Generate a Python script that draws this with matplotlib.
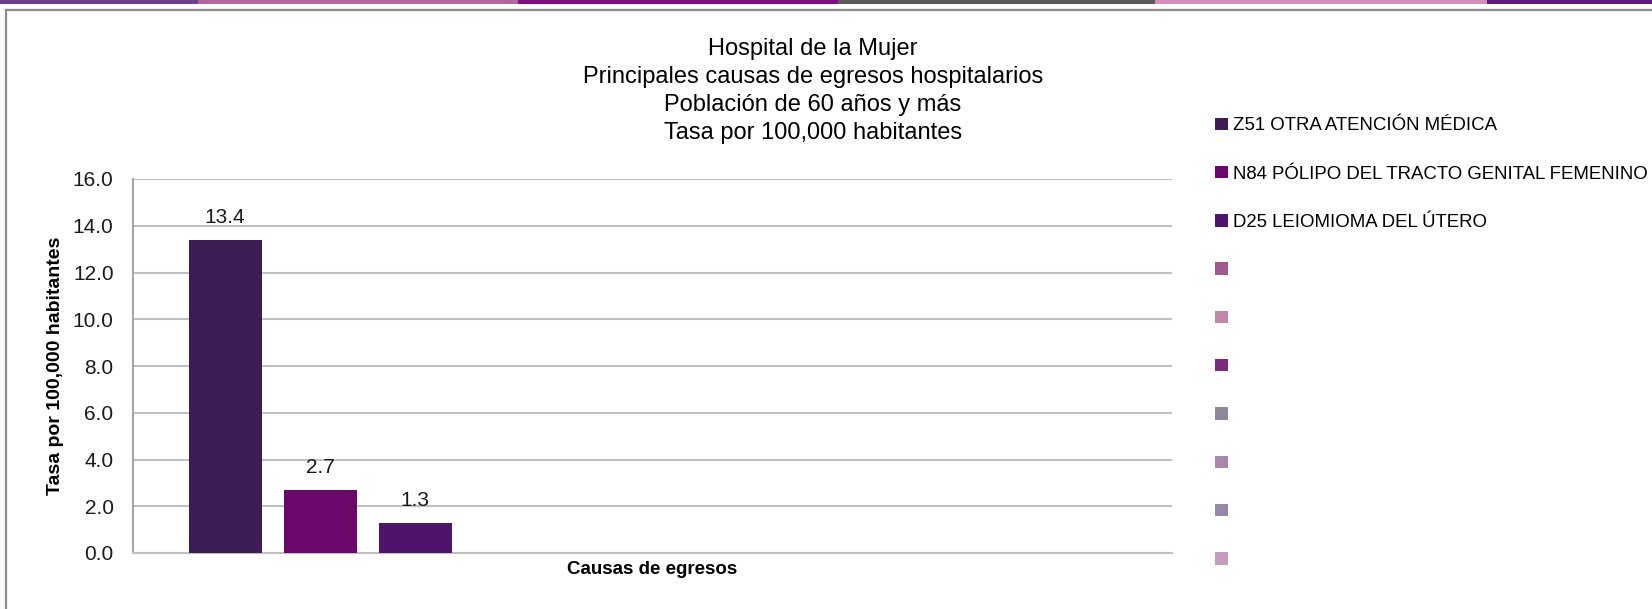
import matplotlib
matplotlib.use("Agg")
import matplotlib.pyplot as plt
from matplotlib.patches import Patch, Rectangle
from matplotlib.lines import Line2D
import numpy as np

plt.rcParams['font.family'] = ['Liberation Sans', 'DejaVu Sans']

title_lines = ["Hospital de la Mujer",
               "Principales causas de egresos hospitalarios",
               "Población de 60 años y más",
               "Tasa por 100,000 habitantes"]
series_names = ["Z51 OTRA ATENCIÓN MÉDICA",
                "N84 PÓLIPO DEL TRACTO GENITAL FEMENINO",
                "D25 LEIOMIOMA DEL ÚTERO",
                "", "", "", "", "", "", ""]
series_values = [13.4, 2.7, 1.3]
series_colors = ["#3b1c54", "#6b076b", "#4f136c", "#9e5a8c", "#bf88a8",
                 "#7a2b7a", "#8f8899", "#a888a8", "#9788a8", "#c79bbb"]
yticks = [0, 2, 4, 6, 8, 10, 12, 14, 16]
ylabel = "Tasa por 100,000 habitantes"
xlabel = "Causas de egresos"

stripe_edges = [0, 198, 518, 838, 1155, 1487, 1652]
stripe_colors = ["#6f3f8f", "#b3679f", "#7f0f7f", "#5a5a5a", "#d48fbb", "#5c1a7f"]

W, H = 1652, 609
fig = plt.figure(figsize=(W / 100, H / 100), dpi=100)

# top coloured stripe and chart frame
for i, c in enumerate(stripe_colors):
    fig.add_artist(Rectangle((stripe_edges[i] / W, 1 - 4 / H),
                             (stripe_edges[i + 1] - stripe_edges[i]) / W, 4 / H,
                             transform=fig.transFigure, color=c, lw=0))
fig.add_artist(Line2D([6 / W, 1], [1 - 10 / H, 1 - 10 / H], transform=fig.transFigure,
                      color="#8c8c8c", lw=1.6))
fig.add_artist(Line2D([6 / W, 6 / W], [0, 1 - 10 / H], transform=fig.transFigure,
                      color="#8c8c8c", lw=1.6))

ax = fig.add_axes([133 / W, (H - 553) / H, (1172 - 133) / W, (553 - 179) / H])

handles = []
for i, name in enumerate(series_names):
    val = series_values[i] if i < len(series_values) else np.nan
    b = ax.bar(i, val, width=0.77, color=series_colors[i], zorder=3)
    if i < len(series_values):
        ax.bar_label(b, labels=[f"{val:.1f}"], padding=9, fontsize=15, color="#1a1a1a")
    handles.append(Patch(facecolor=series_colors[i]))

ax.set_xlim(-0.97, 9.97)
ax.set_ylim(0, 16)
ax.set_yticks(yticks)
ax.set_yticklabels([f"{t:.1f}" for t in yticks], fontsize=15, color="#1a1a1a")
ax.set_xticks([])
ax.tick_params(axis='y', length=0, pad=14)
ax.grid(axis='y', color="#c0c0c0", lw=1.5, zorder=0)
for s in ["top", "right"]:
    ax.spines[s].set_visible(False)
ax.spines["left"].set_color("#a6a6a6")
ax.spines["bottom"].set_color("#c0c0c0")
ax.spines["left"].set_linewidth(1.5)
ax.spines["bottom"].set_linewidth(1.5)
ax.set_ylabel(ylabel, fontsize=14, fontweight='bold', labelpad=6)
ax.set_xlabel(xlabel, fontsize=13.5, fontweight='bold', labelpad=6)

fig.text(813 / W, 1 - 38 / H, "\n".join(title_lines), ha='center', va='top',
         fontsize=17, linespacing=1.35)

fig.legend(handles, series_names, loc='upper left', bbox_to_anchor=(1208 / W, 1 - 110 / H),
           frameon=False, fontsize=13.4, handlelength=0.65, handleheight=0.65,
           handletextpad=0.3, labelspacing=1.68, borderaxespad=0)

fig.savefig("out.png", dpi=100)
